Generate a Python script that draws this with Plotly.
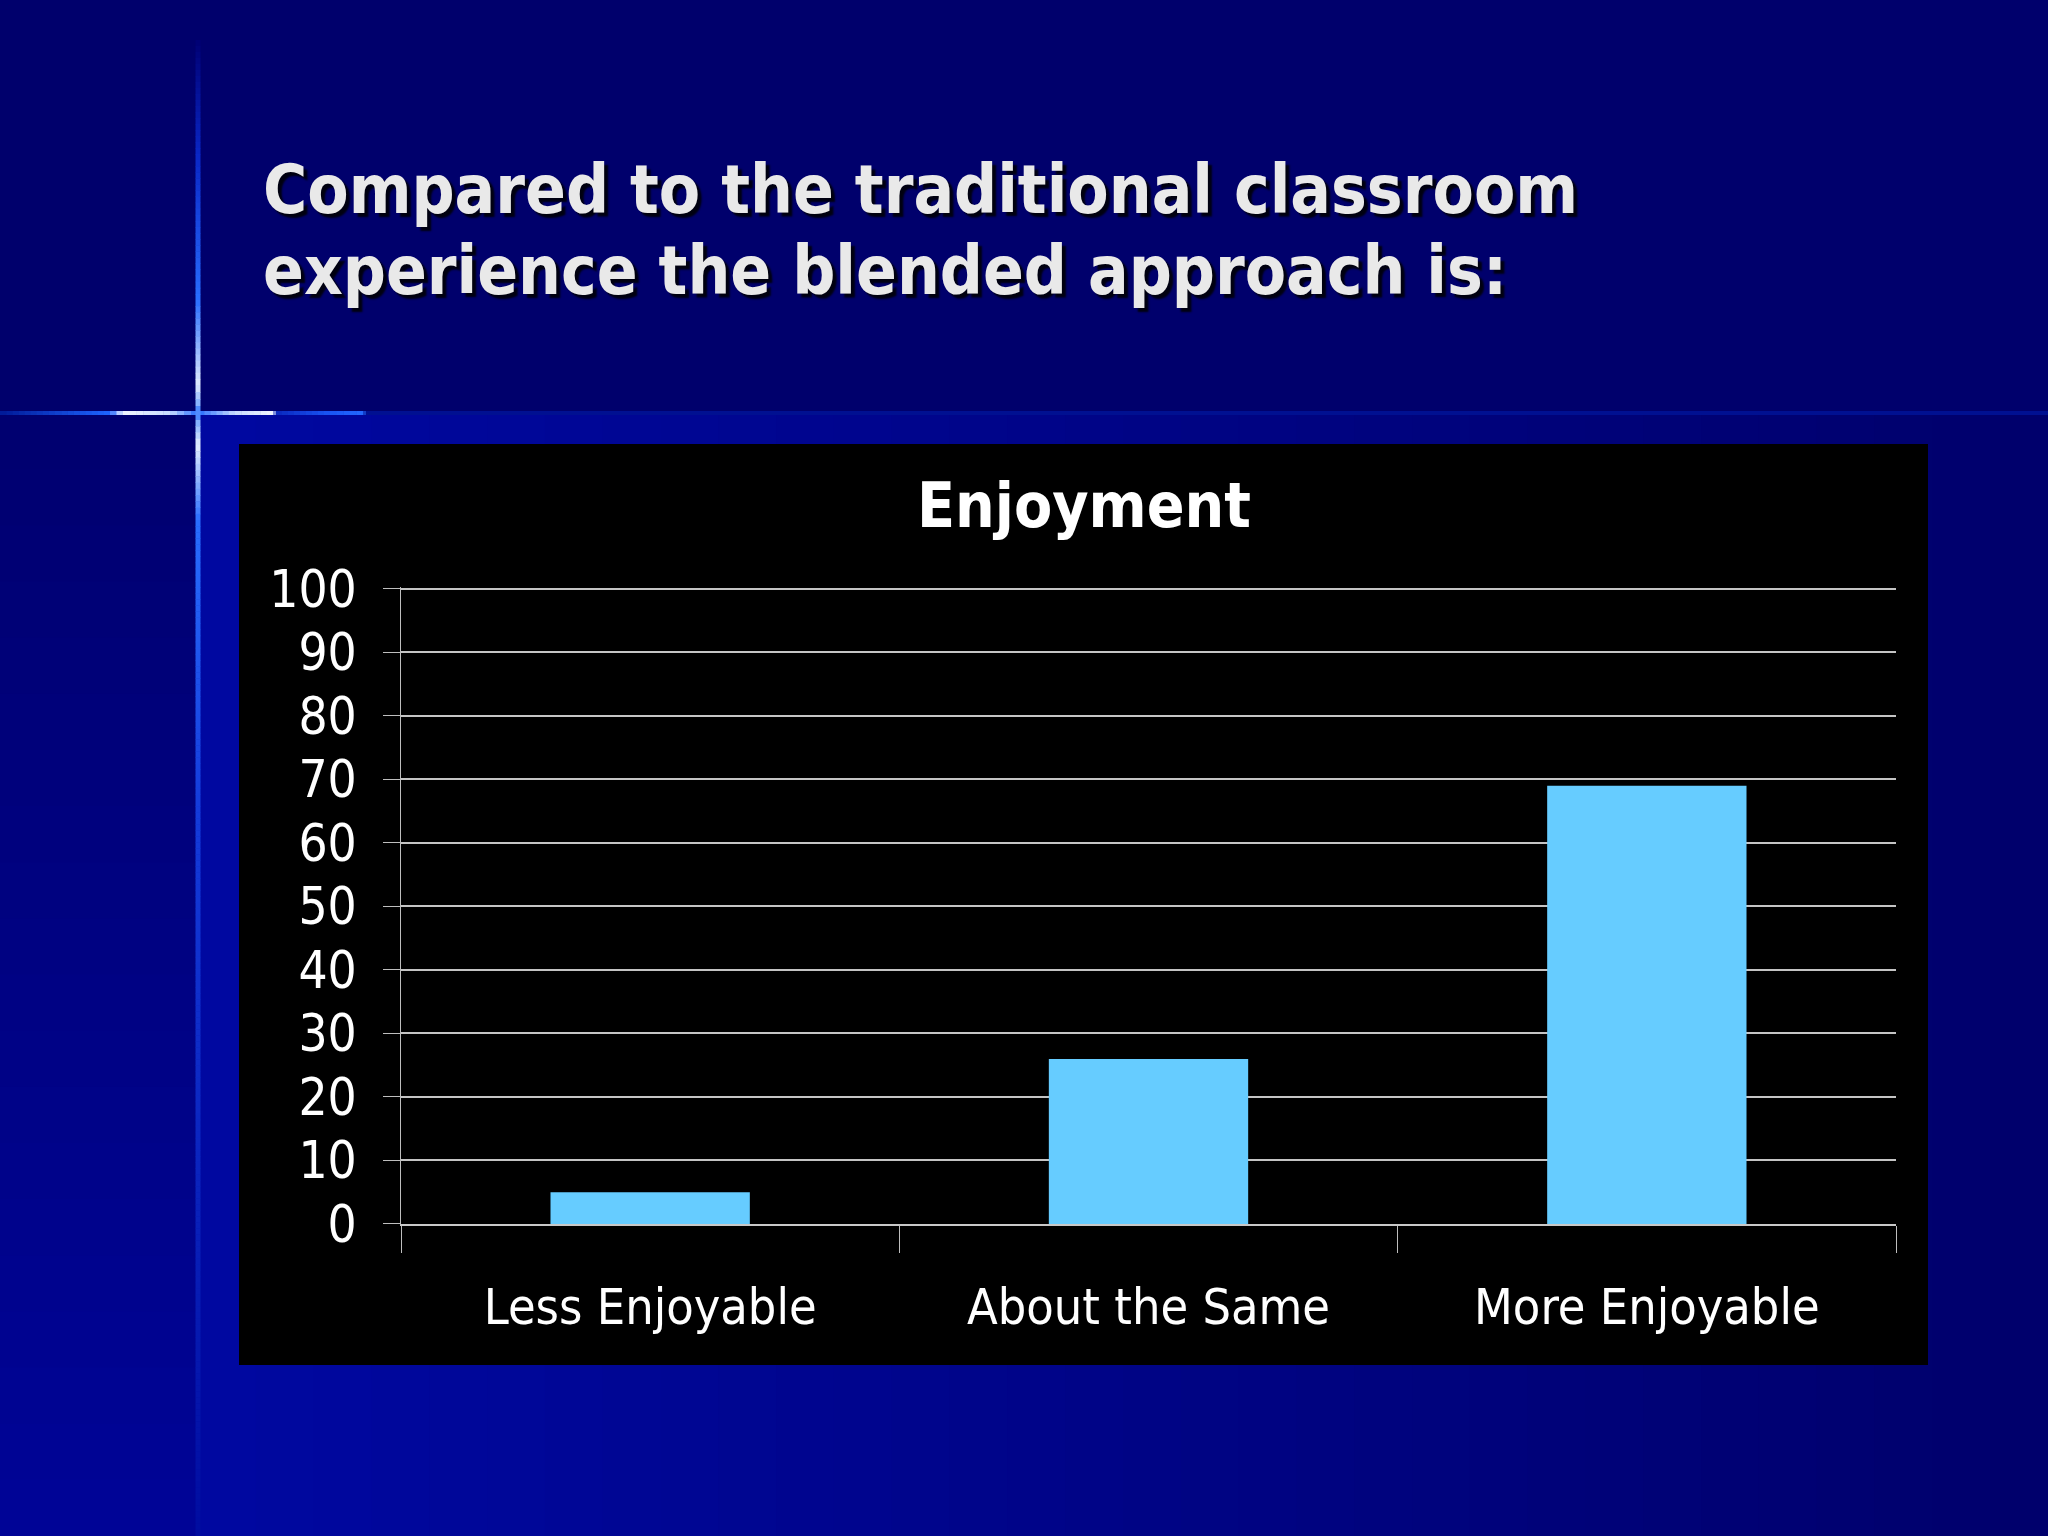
import plotly.graph_objects as go

# ---------------- data ----------------
categories = ["Less Enjoyable", "About the Same", "More Enjoyable"]
values = [5, 26, 69]
y_tick_values = [0, 10, 20, 30, 40, 50, 60, 70, 80, 90, 100]
slide_title_lines = ["Compared to the traditional classroom",
                     "experience the blended approach is:"]
chart_title = "Enjoyment"

# ---------------- helpers ----------------
W, H = 2048, 1536
FONT = "DejaVu Sans Condensed, DejaVu Sans, sans-serif"


def px(x):
    return x / W


def py(y):
    return 1 - y / H


def lerp(c1, c2, t):
    return tuple(round(a + (b - a) * t) for a, b in zip(c1, c2))


def rgb(c):
    return "rgb({},{},{})".format(*c)


shapes = []


def rect(x0, y0, x1, y1, color):
    shapes.append(dict(type="rect", xref="paper", yref="paper",
                       x0=px(x0), x1=px(x1), y0=py(y1), y1=py(y0),
                       fillcolor=color, line_width=0, layer="below"))


def grad_line(stops, fixed, width, vertical):
    for (p0, c0), (p1, c1) in zip(stops[:-1], stops[1:]):
        k = 1 if c0 == c1 else max(1, int((p1 - p0) / 6))
        for j in range(k):
            a = p0 + (p1 - p0) * j / k
            b = min(p0 + (p1 - p0) * (j + 1) / k + 0.5, p1)
            col = rgb(lerp(c0, c1, (j + 0.5) / k))
            if vertical:
                shapes.append(dict(type="line", xref="paper", yref="paper",
                                   x0=px(fixed), x1=px(fixed), y0=py(a), y1=py(b),
                                   line=dict(color=col, width=width), layer="below"))
            else:
                shapes.append(dict(type="line", xref="paper", yref="paper",
                                   x0=px(a), x1=px(b), y0=py(fixed), y1=py(fixed),
                                   line=dict(color=col, width=width), layer="below"))


# background: lower area gradient (right of vertical rule)
n = 32
for i in range(n):
    x0 = 198 + (W - 198) * i / n
    x1 = min(198 + (W - 198) * (i + 1) / n + 1, W)
    rect(x0, 413, x1, H, rgb(lerp((0, 8, 160), (0, 0, 108), i / (n - 1))))
# left strip below rule
m = 20
for i in range(m):
    y0 = 413 + (H - 413) * i / m
    y1 = min(413 + (H - 413) * (i + 1) / m + 1, H)
    rect(0, y0, 198, y1, rgb(lerp((0, 0, 112), (0, 4, 150), i / (m - 1))))

# horizontal rule
grad_line([(0, (0, 25, 150)), (110, (30, 100, 255)), (123, (240, 245, 255)),
           (170, (200, 220, 255)), (198, (40, 110, 255)), (235, (200, 220, 255)),
           (273, (240, 245, 255)), (276, (10, 40, 190)), (330, (25, 85, 245)),
           (363, (35, 105, 255)), (366, (0, 16, 145)), (W, (0, 16, 145))],
          413, 4, vertical=False)
# vertical rule
grad_line([(40, (0, 0, 115)), (160, (10, 40, 200)), (300, (40, 110, 255)),
           (385, (225, 235, 255)), (406, (120, 170, 255)), (413, (40, 110, 255)),
           (420, (120, 170, 255)), (445, (230, 240, 255)), (520, (40, 110, 255)),
           (800, (20, 60, 220)), (H, (0, 12, 160))],
          198, 5, vertical=True)

# black chart panel
rect(239, 444, 1928, 1365, "#000000")

# ---------------- figure ----------------
fig = go.Figure(go.Bar(
    x=categories, y=values, width=0.4,
    marker=dict(color="#66CCFF", line=dict(width=0)),
    hoverinfo="skip",
))

annotations = []
for text, ymid in zip(slide_title_lines, [190, 271]):
    annotations.append(dict(
        x=px(261), y=py(ymid), xref="paper", yref="paper",
        xanchor="left", yanchor="middle", showarrow=False, text=text,
        font=dict(family=FONT, size=67, color="#E9E9E9", weight="bold",
                  shadow="4px 4px 2px #000010")))
annotations.append(dict(
    x=px(1084), y=py(505), xref="paper", yref="paper",
    xanchor="center", yanchor="middle", showarrow=False, text=chart_title,
    font=dict(family=FONT, size=62, color="#FFFFFF", weight="bold")))

Y_TOP = 100.3  # a hair above 100 so the top gridline is drawn
px_per_unit = (1224 - 589) / 100.0
y_top_px = 1224 - Y_TOP * px_per_unit

fig.update_layout(
    width=W, height=H, autosize=False,
    margin=dict(l=0, r=0, t=0, b=0, pad=0, autoexpand=False),
    paper_bgcolor="#00006C",
    plot_bgcolor="rgba(0,0,0,0)",
    showlegend=False,
    shapes=shapes,
    annotations=annotations,
    xaxis=dict(
        domain=[px(401), px(1896)],
        type="category", range=[-0.5, 2.5],
        tickson="boundaries", ticks="outside", ticklen=27, tickwidth=1,
        tickcolor="#BEBEBE",
        showline=True, linecolor="#C8C8C8", linewidth=2,
        showgrid=False, zeroline=False, automargin=False,
        tickfont=dict(family=FONT, size=50, color="#FFFFFF"),
        ticklabelstandoff=38,
    ),
    yaxis=dict(
        domain=[py(1224), py(y_top_px)],
        range=[0, Y_TOP], tickmode="array", tickvals=y_tick_values,
        ticktext=[str(v) for v in y_tick_values],
        ticks="outside", ticklen=17, tickwidth=1, tickcolor="#BEBEBE",
        showline=True, linecolor="#BEBEBE", linewidth=1,
        showgrid=True, gridcolor="#C4C4C4", gridwidth=2,
        zeroline=False, automargin=False,
        tickfont=dict(family=FONT, size=51, color="#FFFFFF"),
        ticklabelstandoff=16,
    ),
)

fig.write_html("out.html", config={"displayModeBar": False},
               post_script="document.body.style.margin='0';document.body.style.overflow='hidden';")
